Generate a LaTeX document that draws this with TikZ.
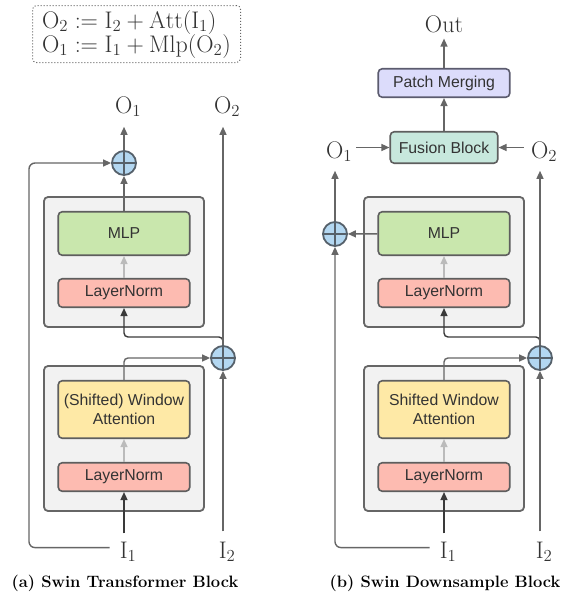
\RequirePackage{fix-cm}
\documentclass[tikz,border=0pt]{standalone}
\usepackage{fontspec}
\setsansfont{Liberation Sans}
\usetikzlibrary{arrows.meta}

\definecolor{linegray}{HTML}{666666}
\definecolor{darkline}{HTML}{3A3A3A}
\definecolor{textgray}{HTML}{333333}
\definecolor{faintgray}{HTML}{BBBBBB}
\definecolor{panelgray}{HTML}{F2F2F2}
\definecolor{boxline}{HTML}{5E5E5E}
\definecolor{mlpgreen}{HTML}{C9E7AD}
\definecolor{normred}{HTML}{FDBBB1}
\definecolor{attyellow}{HTML}{FEE9A6}
\definecolor{fusegreen}{HTML}{C7E8DD}
\definecolor{mergeblue}{HTML}{DCDCFB}
\definecolor{mergeline}{HTML}{5B5B6E}
\definecolor{plusblue}{HTML}{B3D7F1}
\definecolor{plusline}{HTML}{56616B}

\newcommand{\io}[2]{$\mathrm{#1}_{\rlap{$\scriptstyle #2$}}$}

\begin{document}
\begin{tikzpicture}[x=1pt,y=-1pt,
  panel/.style={draw=linegray, fill=panelgray, line width=1.8pt,
    rounded corners=4pt, minimum width=160pt},
  layer/.style={draw=boxline, line width=1.6pt, rounded corners=4pt,
    minimum width=131.5pt, minimum height=28.5pt, align=center, text=textgray,
    font=\fontsize{15.8}{19}\selectfont\sffamily},
  plus/.style={circle, draw=plusline, fill=plusblue, line width=1.8pt,
    minimum size=24pt, inner sep=0pt,
    path picture={\draw[plusline, line width=1.6pt]
      (path picture bounding box.north) -- (path picture bounding box.south)
      (path picture bounding box.west) -- (path picture bounding box.east);}},
  conn/.style={draw=linegray, line width=1.4pt, -{Triangle[length=8pt,width=7pt]}},
  dark/.style={conn, draw=darkline},
  faint/.style={conn, draw=faintgray},
  lab/.style={font=\fontsize{24}{24}\selectfont, text=textgray, inner sep=2pt},
  caption/.style={font=\fontsize{16.5}{18}\selectfont\bfseries, inner sep=0pt},
  eqbox/.style={draw=linegray, dotted, line width=1pt, rounded corners=4pt,
    minimum width=208pt, minimum height=57pt, align=left, text=textgray,
    font=\fontsize{24}{24}\selectfont}]
\useasboundingbox (0,0) rectangle (565,592);

% definition of the two outputs
\node[eqbox] (eq) at (136.5,34)
  {$\mathrm{O}_2 := \mathrm{I}_2 + \mathrm{Att}(\mathrm{I}_1)$\\
   $\mathrm{O}_1 := \mathrm{I}_1 + \mathrm{Mlp}(\mathrm{O}_2)$};

% the two stacks of blocks
\foreach \p/\dx/\att in {a/0/{(Shifted) Window}, b/320/{Shifted Window}} {
  \node[panel, minimum height=130pt] (\p-top) at (124+\dx,262) {};
  \node[panel, minimum height=145pt] (\p-bot) at (124+\dx,438.5) {};
  \node[layer, fill=mlpgreen, minimum height=43.5pt] (\p-mlp) at (124+\dx,233.5) {MLP};
  \node[layer, fill=normred] (\p-ln2) at (124+\dx,293) {LayerNorm};
  \node[layer, fill=attyellow, minimum height=57.5pt] (\p-att) at (124+\dx,409.5) {\att\\Attention};
  \node[layer, fill=normred] (\p-ln1) at (124+\dx,477) {LayerNorm};
  \node[lab, anchor=base] (\p-i1) at (124+\dx,558) {\io{I}{1}};
  \draw[faint] (\p-ln1) -- (\p-att);
  \draw[faint] (\p-ln2) -- (\p-mlp);
  \draw[dark, shorten <=6pt] (\p-i1) -- (\p-ln1);
}

% (a) transformer block
\node[plus] (a-plus1) at (124,163) {};
\node[plus] (a-plus2) at (223,358) {};
\node[lab, anchor=base] (a-o1) at (124,113) {\io{O}{1}};
\node[lab, anchor=base] (a-o2) at (223,113) {\io{O}{2}};
\node[lab, anchor=base] (a-i2) at (223,558) {\io{I}{2}};
\coordinate (a-skip) at (29,163);
\coordinate (a-split) at (223,337);
\draw[conn, rounded corners=6pt, shorten <=8pt] ([yshift=4pt]a-i1.west) -| (a-skip) -- (a-plus1);
\draw[conn, rounded corners=4pt] (a-att) |- (a-plus2);
\draw[dark, rounded corners=4pt] (a-plus2) -- (a-split) -| (a-ln2);
\draw[conn, shorten >=8pt] (a-plus2) -- (a-o2);
\draw[conn, shorten <=8pt] (a-i2) -- (a-plus2);
\draw[conn] (a-mlp) -- (a-plus1);
\draw[conn, shorten >=8pt] (a-plus1) -- (a-o1);
\node[caption, anchor=base] (a-cap) at (125,587) {(a) Swin Transformer Block};

% (b) downsample block
\node[plus] (b-plus1) at (335,234) {};
\node[plus] (b-plus2) at (540,358) {};
\node[lab, anchor=base] (b-o1) at (335,158) {\io{O}{1}};
\node[lab, anchor=base] (b-o2) at (540,158) {\io{O}{2}};
\node[lab, anchor=base] (b-i2) at (540,558) {\io{I}{2}};
\node[layer, fill=fusegreen, minimum width=107.5pt, minimum height=31.5pt] (b-fuse) at (444,147.5) {Fusion Block};
\node[layer, fill=mergeblue, draw=mergeline] (b-pm) at (444,83) {Patch Merging};
\node[lab, anchor=base] (b-out) at (444,32) {Out};
\coordinate (b-split) at (540,337);
\draw[conn, rounded corners=6pt, shorten <=8pt] ([yshift=4pt]b-i1.west) -| (b-plus1);
\draw[conn, rounded corners=4pt] (b-att) |- (b-plus2);
\draw[dark, rounded corners=4pt] (b-plus2) -- (b-split) -| (b-ln2);
\draw[conn, shorten <=8pt] (b-i2) -- (b-plus2);
\draw[conn, shorten >=7pt] (b-plus2) -- (b-o2);
\draw[conn] (b-mlp) -- (b-plus1);
\draw[conn, shorten >=7pt] (b-plus1) -- (b-o1);
\draw[conn, shorten <=10pt] (b-o1.east |- b-fuse.west) -- (b-fuse.west);
\draw[conn, shorten <=5pt] (b-o2.west |- b-fuse.east) -- (b-fuse.east);
\draw[conn] (b-fuse) -- (b-pm);
\draw[conn, shorten >=4pt] (b-pm) -- (b-out);
\node[caption, anchor=base] (b-cap) at (445,587) {(b) Swin Downsample Block};

\end{tikzpicture}
\end{document}
